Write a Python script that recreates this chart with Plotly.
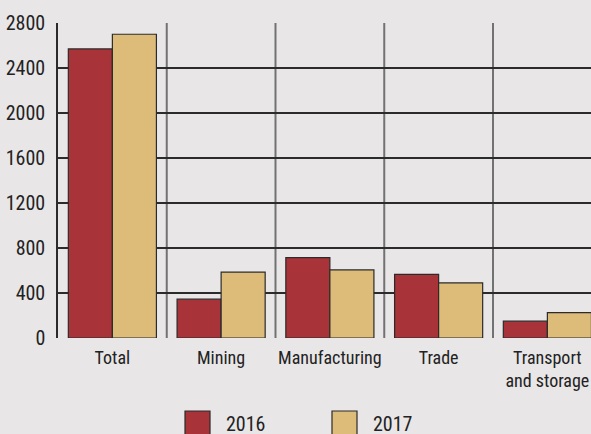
import plotly.graph_objects as go

categories = ["Total", "Mining", "Manufacturing", "Trade", "Transport<br>and storage"]
values_2016 = [2570, 345, 715, 565, 150]
values_2017 = [2700, 585, 605, 490, 225]
series_names = ["2016", "2017"]
y_ticks = [0, 400, 800, 1200, 1600, 2000, 2400, 2800]

RED = "#A83339"
TAN = "#DDBB78"
BG = "#E9E6E7"
DARK = "#2B2B2B"
FONT = "Roboto Condensed, DejaVu Sans Condensed, sans-serif"

W, H = 591, 434
L, T, B = 58, 23, 338
plot_w = W - L
plot_h = B - T

x_idx = list(range(len(categories)))

fig = go.Figure()
fig.add_trace(go.Bar(x=x_idx, y=values_2016, name=series_names[0], marker=dict(color=RED, line=dict(color=DARK, width=1.2)), showlegend=False))
fig.add_trace(go.Bar(x=x_idx, y=values_2017, name=series_names[1], marker=dict(color=TAN, line=dict(color=DARK, width=1.2)), showlegend=False))

shapes = []
for i in range(len(categories) - 1):
    shapes.append(dict(type="line", xref="x", yref="paper", x0=i + 0.5, x1=i + 0.5, y0=0, y1=1,
                       line=dict(color="#727272", width=2), layer="below"))

def px_x(px):
    return (px - L) / plot_w

def px_y(py):
    return (B - py) / plot_h

annotations = []
legend_items = [(series_names[0], RED, 185), (series_names[1], TAN, 332)]
for name, col, x0 in legend_items:
    shapes.append(dict(type="rect", xref="paper", yref="paper", x0=px_x(x0), x1=px_x(x0 + 25),
                       y0=px_y(411), y1=px_y(440), fillcolor=col, line=dict(color=DARK, width=1.2)))
    annotations.append(dict(xref="paper", yref="paper", x=px_x(x0 + 39), y=px_y(424), text=name,
                            showarrow=False, xanchor="left", yanchor="middle",
                            font=dict(family=FONT, size=20, color="#222")))

fig.update_layout(
    width=W, height=H,
    margin=dict(l=L, r=0, t=T, b=H - B, pad=0),
    paper_bgcolor=BG, plot_bgcolor=BG,
    barmode="group", bargap=0.19, bargroupgap=0,
    font=dict(family=FONT, size=20, color="#222"),
    shapes=shapes, annotations=annotations,
    xaxis=dict(range=[-0.5, -0.5 + plot_w / 108.75], tickvals=x_idx, ticktext=categories,
               showgrid=False, zeroline=False, showline=False, ticks="", ticklabelstandoff=7,
               ticklabeloverflow="allow", tickfont=dict(size=18)),
    yaxis=dict(range=[0, 2800], tickvals=y_ticks, showgrid=True, gridcolor=DARK, gridwidth=1.5,
               zeroline=False, showline=True, linecolor=DARK, linewidth=1.5, ticks="",
               ticklabelstandoff=7, tickfont=dict(size=20)),
)

fig.write_html("out.html", config={"displayModeBar": False},
               post_script="document.body.style.margin='0';document.body.style.overflow='hidden';")
